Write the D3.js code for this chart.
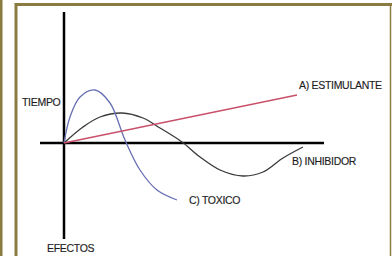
<!DOCTYPE html>
<html><head><meta charset="utf-8">
<script src="https://cdn.jsdelivr.net/npm/d3@7"></script>
<style>
html,body{margin:0;padding:0;background:#fff;}
svg{display:block;}
text{font-family:"Liberation Sans",Arial,sans-serif;font-size:10.5px;fill:#1e1e1e;letter-spacing:-0.3px;stroke:#1e1e1e;stroke-width:0.15px;}
</style></head>
<body>
<script>
// Data (arbitrary units: time along x, effect along y)
const estimulante = [[0,0],[233,48]];
const inhibidor = [[0,0],[19,16],[36,26],[58,30],[79,25],[96,15],[118,1],[136,-14],[156,-27],[179,-33],[199,-29],[219,-15],[239,-4]];
const toxico = [[0,0],[6,26],[16,46],[31,53],[46,40],[61,3],[76,-27],[93,-47],[113,-57]];
const labels = ["A) ESTIMULANTE","B) INHIBIDOR","C) TOXICO"];
const axisLabels = ["TIEMPO","EFECTOS"];
const xAxisExtent = [-24, 260];
const yAxisExtent = [-96, 131];

const W=392,H=256;
const svg=d3.select("body").append("svg").attr("width",W).attr("height",H);
const olive="#8a7b40";

// decorative frame
svg.append("rect").attr("x",0).attr("y",0).attr("width",2.5).attr("height",H).attr("fill",olive);
svg.append("path").attr("d",`M16,${H+5} L16,4.5 L390.5,4.5 L390.5,${H+5}`)
  .attr("fill","none").attr("stroke",olive).attr("stroke-width",3);
svg.append("rect").attr("x",389).attr("y",6).attr("width",3).attr("height",H).attr("fill","#fff");
svg.append("line").attr("x1",390.5).attr("x2",390.5).attr("y1",4).attr("y2",H).attr("stroke",olive).attr("stroke-width",1.5);

const x=d3.scaleLinear().domain([0,100]).range([64,164]);
const y=d3.scaleLinear().domain([0,100]).range([143,43]);

// axes
svg.append("line").attr("x1",x(xAxisExtent[0])).attr("x2",x(xAxisExtent[1]))
  .attr("y1",y(0)).attr("y2",y(0)).attr("stroke","#000").attr("stroke-width",2.5);
svg.append("line").attr("x1",x(0)).attr("x2",x(0))
  .attr("y1",y(yAxisExtent[1])).attr("y2",y(yAxisExtent[0])).attr("stroke","#000").attr("stroke-width",2.5);

const line=d3.line().x(d=>x(d[0])).y(d=>y(d[1])).curve(d3.curveCatmullRom.alpha(0.5));
svg.append("path").datum(inhibidor).attr("d",line).attr("fill","none").attr("stroke","#3a3a3a").attr("stroke-width",1.3);
svg.append("path").datum(toxico).attr("d",line).attr("fill","none").attr("stroke","#6870b4").attr("stroke-width",1.3);
svg.append("path").datum(estimulante).attr("d",line).attr("fill","none").attr("stroke","#c9506a").attr("stroke-width",1.3);

// labels
const lab=[[labels[0],299,89],[labels[1],292,165],[labels[2],189,204],[axisLabels[0],22,106],[axisLabels[1],47,252]];
svg.selectAll("text.l").data(lab).join("text").attr("class","l")
  .attr("x",d=>d[1]).attr("y",d=>d[2]).text(d=>d[0]);
</script>
</body></html>
